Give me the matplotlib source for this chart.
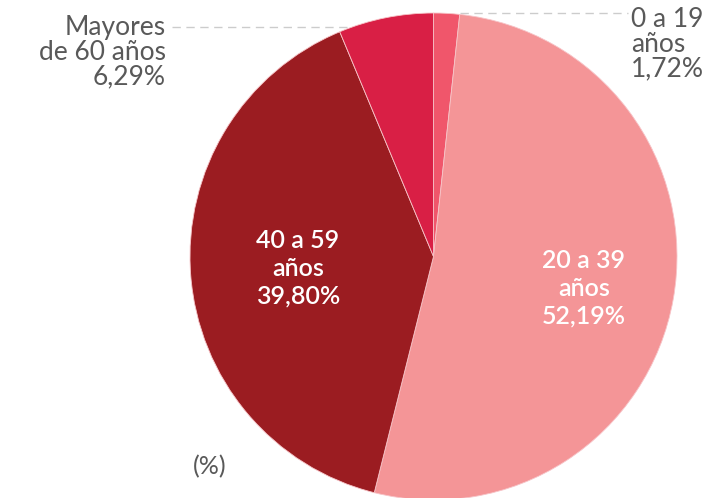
import matplotlib
matplotlib.use("Agg")
import matplotlib.pyplot as plt
import numpy as np

# age groups, share of total (%)
groups = ["0 a 19\naños", "20 a 39\naños", "40 a 59\naños", "Mayores\nde 60 años"]
shares = [1.72, 52.19, 39.80, 6.29]
labels = ["1,72%", "52,19%", "39,80%", "6,29%"]
colors = ["#F0566B", "#F49597", "#9B1C21", "#D91F45"]

plt.rcParams['font.family'] = ['Lato', 'DejaVu Sans']

fig = plt.figure(figsize=(7.11, 4.98), dpi=100)
ax = fig.add_axes([0, 0, 1, 1])

# pie centre at (433.5, 256.5) px, radius 243.5 px
cx, cy, r = 433.5, 256.5, 243.5

wedges, _ = ax.pie(shares, colors=colors, startangle=90, counterclock=False,
                   radius=1, center=(0, 0),
                   wedgeprops=dict(linewidth=0.6, edgecolor='#f7c4c8'))
ax.set_xlim(-cx / r, (711 - cx) / r)
ax.set_ylim((cy - 498) / r, cy / r)
ax.set_aspect('equal')
ax.axis('off')

def px(x, y):
    return (x - cx) / r, (cy - y) / r

gray = "#595959"
fs = 18

# inner labels
x, y = px(298, 268)
ax.text(x, y, groups[2] + "\n" + labels[2], color="white", fontsize=fs,
        fontweight='semibold', ha='center', va='center', linespacing=1.25)
x, y = px(584, 288)
ax.text(x, y, groups[1] + "\n" + labels[1], color="white", fontsize=fs,
        fontweight='semibold', ha='center', va='center', linespacing=1.25)

# outer labels
x, y = px(166, 52)
ax.text(x, y, groups[3] + "\n" + labels[3], color=gray, fontsize=19,
        ha='right', va='center', linespacing=1.0)
x, y = px(631, 44)
ax.text(x, y, groups[0] + "\n" + labels[0], color=gray, fontsize=19,
        ha='left', va='center', linespacing=1.0)

# leader lines
y0 = (cy - 27) / r
x_end = -np.sqrt(1 - y0 ** 2)
ax.plot([(172 - cx) / r, x_end], [y0, y0], color="#cccccc", lw=1, ls=(0, (6, 4)))
y1 = (cy - 13.5) / r
ax.plot([(460 - cx) / r, (628 - cx) / r], [y1, y1], color="#cccccc", lw=1,
        ls=(0, (6, 4)), zorder=0)

x, y = px(210, 467)
ax.text(x, y, "(%)", color=gray, fontsize=fs, ha='center', va='center')

fig.savefig("out.png", dpi=100)
